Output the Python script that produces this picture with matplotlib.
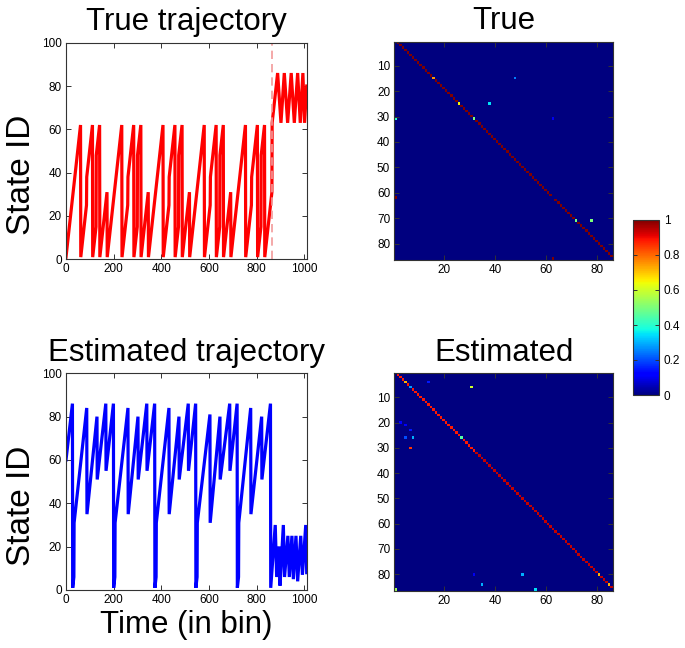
import numpy as np
import matplotlib
matplotlib.use('Agg')
import matplotlib.pyplot as plt

plt.rcParams['font.family'] = ['Liberation Sans', 'DejaVu Sans']

# ---------------- trajectory data (vertices) ----------------
true_t = [0, 61, 62, 86, 87, 111, 112, 126, 127, 141, 142, 172,
          173, 234, 235, 259, 260, 284, 285, 299, 300, 314, 315, 345,
          346, 407, 408, 432, 433, 457, 458, 472, 473, 487, 488, 518,
          519, 580, 581, 605, 606, 630, 631, 645, 646, 660, 661, 691,
          692, 753, 754, 778, 779, 803, 804, 818, 819, 833, 834, 864,
          865, 888, 902, 916, 930, 945, 958, 972, 983, 994, 1001, 1010]
true_state = [1, 62, 1, 25, 38, 62, 1, 15, 48, 62, 1, 31,
              1, 62, 1, 25, 38, 62, 1, 15, 48, 62, 1, 31,
              1, 62, 1, 25, 38, 62, 1, 15, 48, 62, 1, 31,
              1, 62, 1, 25, 38, 62, 1, 15, 48, 62, 1, 31,
              1, 62, 1, 25, 38, 62, 1, 15, 48, 62, 1, 31,
              63, 86, 63, 86, 63, 86, 63, 86, 63, 86, 63, 80]

est_t = [0, 27, 28, 33, 34, 87, 88, 130, 131, 167, 168, 199,
         200, 205, 206, 260, 261, 302, 303, 339, 340, 372,
         373, 378, 379, 432, 433, 474, 475, 513, 514, 544,
         545, 550, 551, 604, 605, 646, 647, 687, 688, 718,
         719, 724, 725, 775, 776, 821, 822, 858,
         859, 878, 884, 894, 898, 912, 917, 931, 937, 948, 954, 965, 972, 985, 992, 1006, 1010]
est_state = [60, 86, 1, 6, 31, 84, 35, 80, 51, 86, 55, 86,
             1, 6, 31, 84, 35, 80, 51, 86, 55, 86,
             1, 6, 31, 84, 35, 80, 51, 86, 55, 86,
             1, 6, 31, 81, 31, 80, 51, 86, 55, 86,
             1, 6, 31, 84, 35, 80, 51, 86,
             1, 30, 6, 20, 2, 30, 6, 25, 6, 25, 5, 25, 4, 25, 7, 30, 8]

switch_time = 865

# ---------------- transition matrices ----------------
n_states = 86
true_next_value = 1.0
true_next_exc_rows = [15, 25, 31, 62, 71]
true_next_exc_vals = [0.75, 0.65, 0.5, 0.0, 0.5]
true_jump_rows = [15, 25, 31, 31, 62, 71, 86]
true_jump_cols = [48, 38, 1, 63, 1, 78, 63]
true_jump_vals = [0.25, 0.35, 0.4, 0.1, 1.0, 0.5, 1.0]

est_next_value_upper = 0.88   # rows 1..31
est_next_value_lower = 0.94   # rows 32..85
est_next_exc_rows = [4, 6, 26, 80, 84]
est_next_exc_vals = [0.72, 0.28, 0.45, 0.72, 0.72]
est_jump_rows = [4, 6, 20, 21, 23, 26, 26, 30, 80, 80, 84, 86, 86]
est_jump_cols = [14, 31, 3, 5, 7, 5, 8, 7, 32, 51, 35, 1, 56]
est_jump_vals = [0.15, 0.6, 0.12, 0.12, 0.15, 0.2, 0.3, 0.85, 0.1, 0.3, 0.3, 0.55, 0.35]


def build_true():
    M = np.zeros((n_states, n_states))
    for i in range(1, n_states):
        M[i - 1, i] = true_next_value
    for r, v in zip(true_next_exc_rows, true_next_exc_vals):
        M[r - 1, r] = v
    for r, c, v in zip(true_jump_rows, true_jump_cols, true_jump_vals):
        M[r - 1, c - 1] = v
    return M


def build_est():
    M = np.zeros((n_states, n_states))
    for i in range(1, n_states):
        M[i - 1, i] = est_next_value_upper if i <= 31 else est_next_value_lower
    for r, v in zip(est_next_exc_rows, est_next_exc_vals):
        M[r - 1, r] = v
    for r, c, v in zip(est_jump_rows, est_jump_cols, est_jump_vals):
        M[r - 1, c - 1] = v
    return M


W, H = 685, 648
fig = plt.figure(figsize=(W / 100, H / 100), dpi=100)


def rect(l, r, t, b):
    return [l / W, (H - b) / H, (r - l) / W, (b - t) / H]


TICK_FS = 8.5
TITLE_FS = 22.5
YLABEL_FS = 24
XLABEL_FS = 22.5
TITLE_PAD = 9
SPINE = '#333333'


def style(ax):
    ax.tick_params(direction='in', length=3.5, width=0.7, labelsize=TICK_FS,
                   top=True, right=True, colors=SPINE, labelcolor='black', pad=3)
    for s in ax.spines.values():
        s.set_color(SPINE)
        s.set_linewidth(0.8)


# top-left: true trajectory
ax1 = fig.add_axes(rect(66, 306.7, 42.7, 259.3))
ax1.plot(true_t, true_state, color='#ff0000', lw=2.3, solid_joinstyle='miter')
ax1.axvline(switch_time, color='#f29a9a', lw=1.2, ls=(0, (5, 3)))
ax1.set_xlim(0, 1010)
ax1.set_ylim(0, 100)
ax1.set_xticks([0, 200, 400, 600, 800, 1000])
ax1.set_yticks([0, 20, 40, 60, 80, 100])
ax1.set_title('True trajectory', fontsize=TITLE_FS, pad=TITLE_PAD)
ax1.set_ylabel('State ID', fontsize=YLABEL_FS)
ax1.yaxis.set_label_coords(-0.12, 0.39)
style(ax1)

# bottom-left: estimated trajectory
ax2 = fig.add_axes(rect(66, 306.7, 373.3, 590))
ax2.plot(est_t, est_state, color='#0000ff', lw=2.3, solid_joinstyle='miter')
ax2.set_xlim(0, 1010)
ax2.set_ylim(0, 100)
ax2.set_xticks([0, 200, 400, 600, 800, 1000])
ax2.set_yticks([0, 20, 40, 60, 80, 100])
ax2.set_title('Estimated trajectory', fontsize=TITLE_FS, pad=TITLE_PAD)
ax2.set_ylabel('State ID', fontsize=YLABEL_FS)
ax2.yaxis.set_label_coords(-0.12, 0.39)
ax2.set_xlabel('Time (in bin)', fontsize=XLABEL_FS, labelpad=3)
style(ax2)

# matrices
ext = (0.5, n_states + 0.5, n_states + 0.5, 0.5)
ax3 = fig.add_axes(rect(394.3, 613.3, 41.7, 260))
im = ax3.imshow(build_true(), cmap='jet', vmin=0, vmax=1, extent=ext,
                aspect='auto', interpolation='nearest')
ax3.set_xticks([20, 40, 60, 80])
ax3.set_yticks([10, 20, 30, 40, 50, 60, 70, 80])
ax3.set_title('True', fontsize=TITLE_FS, pad=TITLE_PAD)
style(ax3)

ax4 = fig.add_axes(rect(394.3, 613.3, 373.3, 590.7))
ax4.imshow(build_est(), cmap='jet', vmin=0, vmax=1, extent=ext,
           aspect='auto', interpolation='nearest')
ax4.set_xticks([20, 40, 60, 80])
ax4.set_yticks([10, 20, 30, 40, 50, 60, 70, 80])
ax4.set_title('Estimated', fontsize=TITLE_FS, pad=TITLE_PAD)
style(ax4)

# colorbar
cax = fig.add_axes(rect(632.7, 658.7, 220, 395))
cb = fig.colorbar(im, cax=cax, ticks=[0, 0.2, 0.4, 0.6, 0.8, 1])
cb.ax.set_yticklabels(['0', '0.2', '0.4', '0.6', '0.8', '1'])
cb.outline.set_edgecolor(SPINE)
cb.outline.set_linewidth(0.8)
cb.ax.tick_params(direction='in', length=3, width=0.7, labelsize=TICK_FS,
                  colors=SPINE, labelcolor='black', left=True, right=True)

fig.savefig('out.png', dpi=100)
